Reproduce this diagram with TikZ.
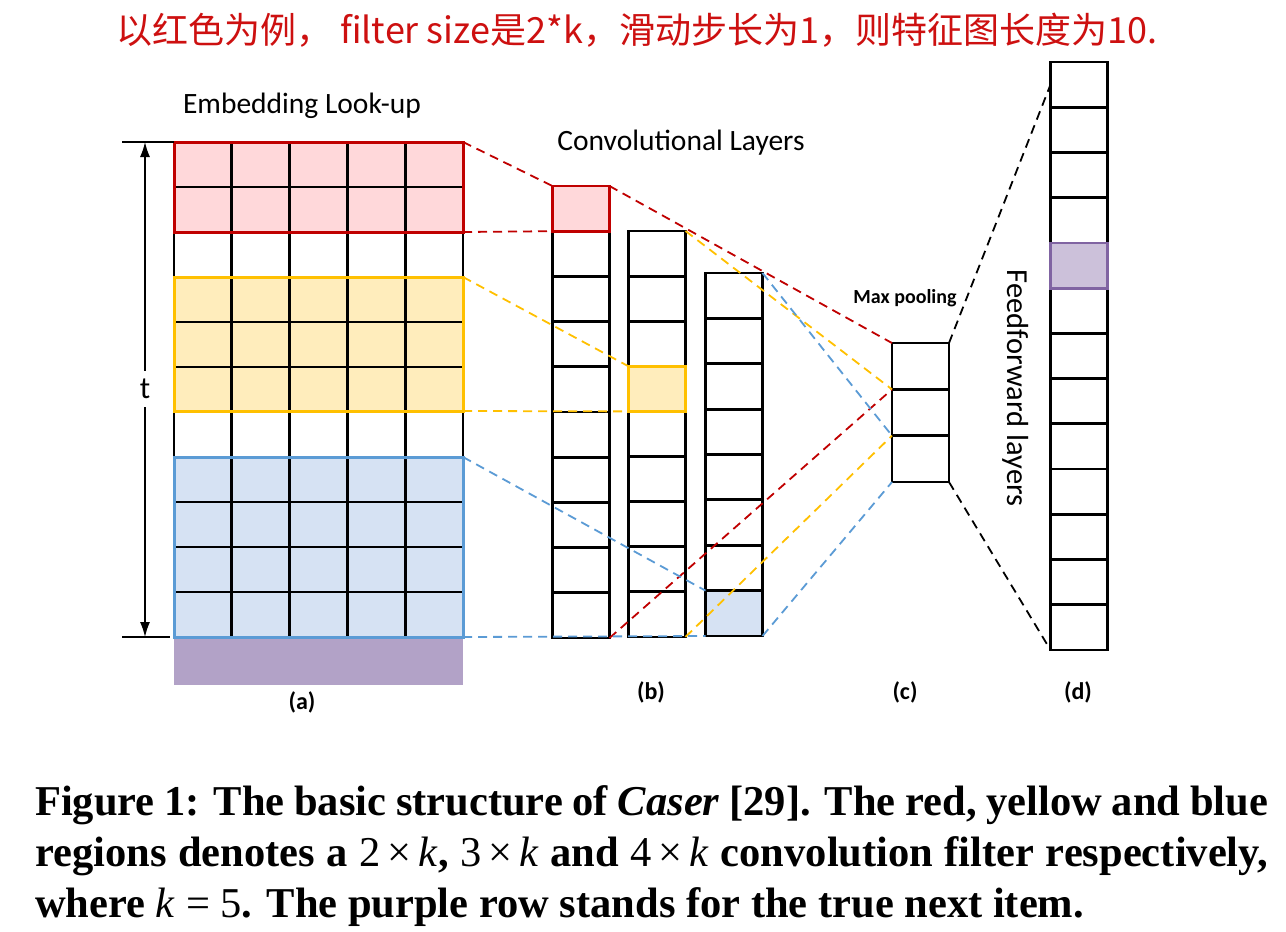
\documentclass[tikz,border=0pt]{standalone}
\usepackage{fontspec}
\newfontfamily\calfont{Carlito}
\newfontfamily\cjkfont{Noto Sans CJK SC}
\newfontfamily\capfont{Liberation Serif}
\usetikzlibrary{arrows.meta,calc}
\definecolor{redc}{RGB}{192,0,0}
\definecolor{redfill}{RGB}{255,216,218}
\definecolor{yelc}{RGB}{255,192,0}
\definecolor{yelfill}{RGB}{255,237,188}
\definecolor{bluc}{RGB}{91,155,213}
\definecolor{blufill}{RGB}{214,226,243}
\definecolor{purA}{RGB}{178,162,199}
\definecolor{purD}{RGB}{204,193,218}
\definecolor{purDb}{RGB}{128,100,162}
\definecolor{titlered}{RGB}{205,16,16}
\begin{document}
\begin{tikzpicture}[x=1pt,y=-1pt,
  cell/.style={draw=black, line width=2.8pt, inner sep=0pt, outer sep=0pt, minimum width=57pt, minimum height=#1},
  region/.style={inner sep=0pt, outer sep=0pt, minimum width=289pt, minimum height=#1},
  gridline/.style={black, line width=2.8pt},
  regborder/.style={line width=3pt},
  conn/.style={line width=1.8pt, dash pattern=on 9pt off 6pt},
  lbl/.style={font=\calfont\fontsize{29.5}{29.5}\selectfont, inner sep=0pt},
  sub/.style={font=\calfont\bfseries\fontsize{24}{24}\selectfont, inner sep=0pt}]
\useasboundingbox (0,0) rectangle (1286,932);
\fill[white] (0,0) rectangle (1286,932);

% title
\node[text=titlered, font=\cjkfont\fontsize{36}{36}\selectfont, inner sep=0pt] (title) at (637,30)
  {以红色为例，\hspace{0.2em}filter size是2*k，滑动步长为1，则特征图长度为10.};

% (a) embedding grid
\node[region=90pt, fill=redfill] (redA) at (318.5,187) {};
\node[region=134pt, fill=yelfill] (yelA) at (318.5,344) {};
\node[region=180pt, fill=blufill] (bluA) at (318.5,547) {};
\node[region=48pt, fill=purA] (purA) at (318.5,661) {};
\foreach \j in {0,...,5} \draw[gridline] ({174+57.8*\j},142) -- ({174+57.8*\j},637);
\foreach \i in {1,...,10} \draw[gridline] (174,{142+45*\i}) -- (463,{142+45*\i});
\draw[regborder, redc] (redA.north west) rectangle (redA.south east);
\draw[regborder, yelc] (yelA.north west) rectangle (yelA.south east);
\draw[regborder, bluc] (bluA.north west) rectangle (bluA.south east);

% t arrow
\coordinate (tickT) at (122,142);
\coordinate (tickB) at (122,637);
\coordinate (ttop) at (145,142);
\coordinate (tbot) at (145,637);
\draw[line width=1.3pt] (tickT) -- (redA.north west);
\draw[line width=1.3pt] (tickB) -- ($(bluA.south west)+(-4,0)$);
\draw[line width=1.3pt, {Latex[length=15pt,width=10pt]}-{Latex[length=15pt,width=10pt]}] (ttop) -- (tbot);
\node[fill=white, font=\calfont\fontsize{31}{31}\selectfont, inner sep=1pt, minimum height=36pt] (tlab) at (145,389) {t};

% (b) columns
\foreach \i in {1,...,9} \node[cell=45.2pt] (b1-\i) at (581,{208.6+45.2*\i}) {};
\node[cell=45.2pt, draw=redc, fill=redfill] (b1-0) at (581,208.6) {};
\foreach \i in {0,1,2,4,5,6,7,8} \node[cell=45.1pt] (b2-\i) at (657,{253.55+45.1*\i}) {};
\node[cell=45.1pt, draw=yelc, fill=yelfill] (b2-3) at (657,{253.55+45.1*3}) {};
\foreach \i in {0,...,6} \node[cell=45.375pt] (b3-\i) at (734,{295.7+45.375*\i}) {};
\node[cell=45.375pt, fill=blufill] (b3-7) at (734,{295.7+45.375*7}) {};

% (c) max pooling
\foreach \i in {0,1,2} \node[cell=46.33pt] (c-\i) at (920.5,{366.2+46.33*\i}) {};

% (d) feedforward
\foreach \i in {0,1,2,3,5,6,7,8,9,10,11,12} \node[cell=45.23pt] (d-\i) at (1079,{84.6+45.23*\i}) {};
\node[cell=45.23pt, draw=purDb, fill=purD] (d-4) at (1079,{84.6+45.23*4}) {};

% connectors
\draw[conn, redc] (redA.north east) -- (b1-0.north west);
\draw[conn, redc] (redA.south east) -- (b1-0.south west);
\draw[conn, redc] (b1-0.north east) -- (c-0.north west);
\draw[conn, redc] (b1-9.south east) -- (c-1.north west);
\draw[conn, yelc] (yelA.north east) -- (b2-3.north west);
\draw[conn, yelc] (yelA.south east) -- (b2-3.south west);
\draw[conn, yelc] (b2-0.north east) -- (c-1.north west);
\draw[conn, yelc] (b2-8.south east) -- (c-2.north west);
\draw[conn, bluc] (bluA.north east) -- (b3-7.north west);
\draw[conn, bluc] (bluA.south east) -- (b3-7.south west);
\draw[conn, bluc] (b3-0.north east) -- (c-2.north west);
\draw[conn, bluc] (b3-7.south east) -- (c-2.south west);
\draw[conn, black] (c-0.north east) -- (d-0.west);
\draw[conn, black] (c-2.south east) -- (d-12.south west);

% labels
\node[lbl] (lblEmb) at (302,106) {Embedding Look-up};
\node[lbl] (lblConv) at (681,143) {Convolutional Layers};
\node[lbl, font=\calfont\fontsize{30.5}{30.5}\selectfont, rotate=-90] (lblFF) at (1016,388) {Feedforward layers};
\node[font=\calfont\bfseries\fontsize{20}{20}\selectfont, inner sep=0pt] (lblMax) at (905,298) {Max pooling};
\node[sub] (sa) at (302,702) {(a)};
\node[sub] (sb) at (651,692) {(b)};
\node[sub] (sc) at (905,692) {(c)};
\node[sub] (sd) at (1078,692) {(d)};

% caption
\node[anchor=north west, inner sep=0pt, align=left, font=\capfont\bfseries\fontsize{42.5}{51}\selectfont] (cap) at (35,785)
 {\makebox[1233pt][s]{Figure 1: The basic structure of \textit{Caser} [29]. The red, yellow and blue}\\
  \makebox[1233pt][s]{regions denotes a {\mdseries 2\,×\,\textit{k}}, {\mdseries 3\,×\,\textit{k}} and {\mdseries 4\,×\,\textit{k}} convolution filter respectively,}\\
  where {\mdseries\textit{k} = 5}. The purple row stands for the true next item.};
\end{tikzpicture}
\end{document}
